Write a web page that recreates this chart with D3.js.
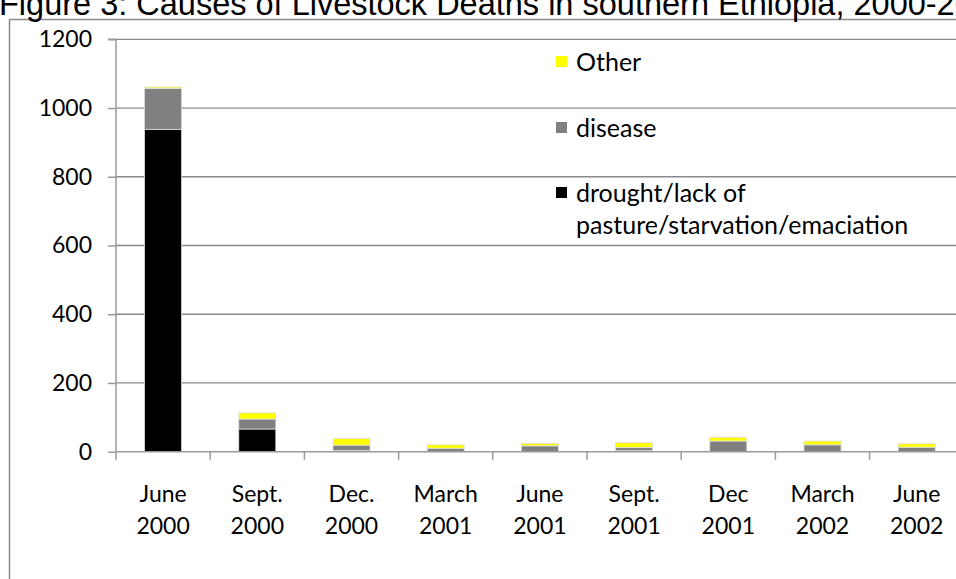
<!DOCTYPE html>
<html>
<head>
<meta charset="utf-8">
<script src="https://cdn.jsdelivr.net/npm/d3@7/dist/d3.min.js"></script>
<style>
  html, body { margin: 0; padding: 0; background: #fff; overflow: hidden; }
  svg { display: block; }
</style>
</head>
<body>
<svg id="chart" width="956" height="579"></svg>
<script>
// ---- data ----
const title = "Figure 3: Causes of Livestock Deaths in southern Ethiopia, 2000-2002";
const categories = ["June 2000", "Sept. 2000", "Dec. 2000", "March 2001", "June 2001",
                    "Sept. 2001", "Dec 2001", "March 2002", "June 2002"];
const drought = [938, 66, 4, 1, 0, 3, 0, 0, 0];
const disease = [119, 29, 15, 9, 17, 9, 31, 20, 13];
const other   = [4, 18, 19, 10, 7, 14, 11, 11, 10];
const seriesNames = ["drought/lack of pasture/starvation/emaciation", "disease", "Other"];
const seriesColors = ["#000000", "#808080", "#FFFF00"];
const yTicks = [0, 200, 400, 600, 800, 1000, 1200];

// ---- layout ----
const svg = d3.select("#chart");
const plotLeft = 116, bandW = 94.2;
const x = d3.scaleBand().domain(categories)
  .range([plotLeft, plotLeft + bandW * categories.length]).paddingInner(0).paddingOuter(0);
const y = d3.scaleLinear().domain([0, 1200]).range([451.7, 39.3]);
const barW = 37;
const font = "Lato, 'Open Sans', sans-serif";
const axisColor = "#9a9a9a";

// chart frame (clipped on right/bottom)
svg.append("rect").attr("x", 9.5).attr("y", 19.5).attr("width", 1000).attr("height", 700)
  .attr("fill", "none").attr("stroke", "#8c8c8c").attr("stroke-width", 1.5);

// title (partly cut off at top, as in the reference)
svg.append("text").attr("x", -1).attr("y", 15)
  .attr("font-family", "'Liberation Sans', Arial, sans-serif").attr("font-size", 32.5)
  .attr("fill", "#000").text(title);

// gridlines
svg.append("g").selectAll("line").data(yTicks.filter(d => d > 0)).join("line")
  .attr("x1", plotLeft).attr("x2", 970)
  .attr("y1", d => y(d)).attr("y2", d => y(d))
  .attr("stroke", "#8a8a8a").attr("stroke-width", 1.3);

// y axis
const yAxis = d3.axisLeft(y).tickValues(yTicks).tickSize(8).tickPadding(16).tickFormat(d3.format("d"));
const gy = svg.append("g").attr("transform", `translate(${plotLeft},0)`).call(yAxis);
gy.select(".domain").attr("stroke", axisColor).attr("stroke-width", 1.5).attr("d", `M-8,${y(1200)}H0V${y(0)}`);
gy.selectAll(".tick line").attr("stroke", axisColor).attr("stroke-width", 1.5);
gy.selectAll(".tick text").attr("font-family", font).attr("font-size", 23).attr("fill", "#000");

// stacked bars
const rows = categories.map((c, i) => ({cat: c, d0: drought[i], d1: disease[i], d2: other[i]}));
const stack = d3.stack().keys(["d0", "d1", "d2"]);
const layers = stack(rows);
svg.append("g").selectAll("g").data(layers).join("g")
  .attr("fill", (d, i) => seriesColors[i])
  .selectAll("rect").data(d => d).join("rect")
  .attr("x", d => x(d.data.cat) + x.bandwidth() / 2 - barW / 2)
  .attr("width", barW)
  .attr("y", d => y(d[1]))
  .attr("height", d => Math.max(0, y(d[0]) - y(d[1])))
  .attr("stroke", "#dcdcdc").attr("stroke-width", 0.8);

// x axis
const xAxisLine = svg.append("g");
xAxisLine.append("line").attr("x1", plotLeft).attr("x2", 970)
  .attr("y1", y(0)).attr("y2", y(0)).attr("stroke", axisColor).attr("stroke-width", 1.5);
const bounds = categories.map(c => x(c)).concat([x(categories[categories.length - 1]) + x.bandwidth()]);
xAxisLine.selectAll("line.tk").data(bounds).join("line").attr("class", "tk")
  .attr("x1", d => d).attr("x2", d => d)
  .attr("y1", y(0)).attr("y2", y(0) + 8)
  .attr("stroke", axisColor).attr("stroke-width", 1.5);

const xl = svg.append("g").selectAll("text").data(categories).join("text")
  .attr("x", d => x(d) + x.bandwidth() / 2)
  .attr("text-anchor", "middle")
  .attr("font-family", font).attr("font-size", 23).attr("fill", "#000");
xl.append("tspan").attr("x", d => x(d) + x.bandwidth() / 2).attr("y", 502).text(d => d.split(" ")[0]);
xl.append("tspan").attr("x", d => x(d) + x.bandwidth() / 2).attr("y", 534).text(d => d.split(" ")[1]);

// legend (top to bottom: Other, disease, drought)
const legendItems = [
  {name: seriesNames[2], color: seriesColors[2], lines: ["Other"], y: 62},
  {name: seriesNames[1], color: seriesColors[1], lines: ["disease"], y: 128},
  {name: seriesNames[0], color: seriesColors[0], lines: ["drought/lack of", "pasture/starvation/emaciation"], y: 193}
];
const lg = svg.append("g").selectAll("g").data(legendItems).join("g");
lg.append("rect").attr("x", 556).attr("y", d => d.y - 6).attr("width", 11).attr("height", 11)
  .attr("fill", d => d.color);
lg.each(function(d) {
  const t = d3.select(this).append("text").attr("font-family", font).attr("font-size", 25).attr("fill", "#000");
  d.lines.forEach((ln, i) => {
    t.append("tspan").attr("x", 576).attr("y", d.y + 8.5 + i * 32.5).text(ln);
  });
});
</script>
</body>
</html>
